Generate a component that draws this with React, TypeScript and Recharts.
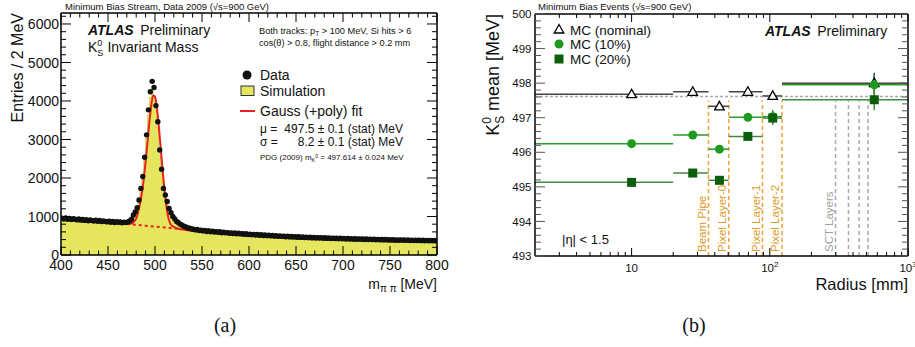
import React from 'react';
import {
  ComposedChart,
  Area,
  Line,
  Scatter,
  XAxis,
  YAxis,
  ErrorBar,
  ReferenceLine,
} from 'recharts';

const FONT = '"Liberation Sans", Arial, Helvetica, sans-serif';

// ---- (a) K0s invariant mass, 2 MeV bins from 400 to 800 MeV ----
const massBinStart = 400;
const massBinWidth = 2;

const dataCounts = [
  958, 936, 964, 928, 951, 922, 944, 931, 912, 938,
  905, 926, 898, 915, 887, 909, 893, 881, 902, 874,
  896, 868, 884, 873, 859, 881, 852, 870, 846, 862,
  849, 858, 838, 855, 842, 856, 884, 928, 1040, 1120,
  1230, 1430, 1730, 2040, 2540, 3120, 3770, 4240, 4510, 4350,
  3880, 3460, 2730, 2230, 1730, 1560, 1390, 1210, 1100, 1000,
  935, 872, 838, 796, 772, 741, 728, 702, 695, 676,
  668, 652, 661, 634, 647, 626, 639, 612, 631, 604,
  621, 596, 608, 590, 604, 577, 593, 575, 582, 566,
  575, 558, 571, 549, 563, 548, 553, 537, 551, 530,
  541, 528, 536, 518, 531, 512, 527, 506, 519, 503,
  512, 499, 506, 490, 504, 484, 497, 483, 490, 474,
  489, 470, 480, 469, 476, 460, 475, 457, 468, 456,
  463, 451, 460, 444, 459, 441, 452, 440, 450, 434,
  447, 431, 445, 428, 439, 428, 436, 422, 434, 420,
  431, 417, 428, 416, 425, 411, 423, 409, 419, 408,
  417, 404, 414, 401, 412, 400, 408, 396, 406, 394,
  404, 392, 401, 391, 398, 387, 397, 385, 394, 383,
  393, 382, 390, 380, 389, 378, 387, 377, 384, 375,
  384, 373, 382, 371, 379, 370, 378, 367, 376, 365,
];

const simCounts = [
  904, 897, 899, 889, 886, 884, 876, 873, 871, 864,
  862, 857, 856, 849, 846, 844, 838, 836, 834, 828,
  826, 822, 821, 815, 813, 811, 806, 805, 801, 799,
  797, 796, 792, 791, 793, 800, 829, 878, 958, 1048,
  1168, 1378, 1676, 1995, 2468, 3040, 3640, 4090, 4300, 4150,
  3760, 3300, 2660, 2150, 1680, 1480, 1312, 1158, 1042, 948,
  868, 811, 764, 731, 704, 686, 667, 656, 644, 636,
  625, 618, 608, 602, 593, 588, 579, 574, 566, 562,
  554, 550, 543, 540, 533, 530, 523, 520, 514, 512,
  506, 504, 498, 496, 490, 488, 483, 481, 476, 475,
  469, 468, 463, 462, 457, 456, 451, 451, 446, 445,
  441, 440, 436, 435, 431, 431, 426, 426, 422, 422,
  418, 418, 414, 414, 410, 410, 406, 406, 402, 403,
  399, 399, 395, 396, 392, 392, 389, 389, 386, 386,
  383, 383, 380, 380, 377, 378, 374, 375, 372, 372,
  369, 370, 367, 367, 364, 365, 362, 363, 360, 361,
  357, 358, 355, 356, 353, 354, 351, 352, 349, 350,
  347, 348, 345, 346, 343, 344, 342, 343, 340, 341,
  338, 339, 336, 338, 335, 336, 333, 334, 332, 333,
  330, 331, 329, 330, 327, 328, 326, 327, 324, 326,
];

const fitMass = [
  400, 410, 420, 430, 440, 450, 460, 470, 474, 478, 480, 482, 484, 486, 488,
  490, 492, 494, 496, 498, 500, 502, 504, 506, 508, 510, 512, 514, 516, 518,
  520, 524, 530, 540, 550, 560, 570, 580, 590, 600, 620, 640, 660, 680, 700,
  720, 740, 760, 780, 800,
];
const fitValues = [
  935, 915, 896, 878, 861, 845, 829, 805, 812, 875, 945, 1110, 1330, 1610, 1960,
  2420, 2920, 3440, 3880, 4140, 4110, 3830, 3360, 2800, 2230, 1710, 1290, 990, 830, 760,
  730, 690, 660, 632, 607, 585, 566, 549, 533, 518, 492, 471, 453, 438, 425,
  414, 404, 396, 389, 383,
];
const bkgMass = [470, 480, 490, 500, 510, 520, 528];
const bkgValues = [805, 783, 761, 739, 716, 690, 668];

const massTicks = [400, 450, 500, 550, 600, 650, 700, 750, 800];
const entriesTicks = [0, 1000, 2000, 3000, 4000, 5000, 6000];

// ---- (b) K0s mean mass vs radius ----
const radiusLo = [2, 20, 36, 50.5, 88.5, 122.5];
const radiusHi = [20, 36, 50.5, 88.5, 122.5, 1000];
const radiusCenter = [10, 27.7, 43.2, 69.4, 105, 570];
const meanNominal = [497.68, 497.75, 497.33, 497.75, 497.63, 498.0];
const meanMc10 = [496.25, 496.5, 496.09, 497.01, 497.03, 497.95];
const meanMc20 = [495.13, 495.4, 495.19, 496.46, 496.99, 497.52];
const errNominal = [0.02, 0.03, 0.04, 0.03, 0.05, 0.3];
const errMc10 = [0.03, 0.04, 0.05, 0.06, 0.2, 0.3];
const errMc20 = [0.03, 0.04, 0.05, 0.06, 0.2, 0.3];
const pdgMass = 497.614;
const layerTop = 497.5;
const pixelLayers = [36, 50.5, 88.5, 122.5];
const pixelLabels = ['Beam Pipe', 'Pixel Layer-0', 'Pixel Layer-1', 'Pixel Layer-2'];
const sctLayers = [299, 371, 443, 514];
const radiusTicks = [10, 100, 1000];
const radiusMinorTicks = [3, 4, 5, 6, 7, 8, 9, 20, 30, 40, 50, 60, 70, 80, 90, 200, 300, 400, 500, 600, 700, 800, 900];
const meanTicks = [493, 494, 495, 496, 497, 498, 499, 500];

const RED = '#e8231f';
const YELLOW = '#e6e65e';
const GREEN = '#1f9a1f';
const DARK_GREEN = '#0b5e0b';
const ORANGE = '#f0a22e';

const minorTicks = (lo: number, hi: number, step: number, major: number) => {
  const out: number[] = [];
  for (let v = lo; v <= hi + 1e-9; v += step) {
    const r = Math.round(v * 1000) / 1000;
    if (Math.abs(r / major - Math.round(r / major)) > 1e-6) out.push(r);
  }
  return out;
};

const simArea = simCounts
  .map((y, i) => ({ x: massBinStart + i * massBinWidth, y }))
  .concat([{ x: massBinStart + simCounts.length * massBinWidth, y: simCounts[simCounts.length - 1] }]);
const dataPoints = dataCounts.map((y, i) => ({ x: massBinStart + (i + 0.5) * massBinWidth, y }));
const fitLine = fitMass.map((x, i) => ({ x, y: fitValues[i] }));
const bkgLine = bkgMass.map((x, i) => ({ x, y: bkgValues[i] }));

const radiusRows = (means: number[], errs: number[]) =>
  means.map((y, i) => ({
    x: radiusCenter[i],
    y,
    xe: [radiusCenter[i] - radiusLo[i], radiusHi[i] - radiusCenter[i]],
    ye: errs[i],
  }));
const nominalRows = radiusRows(meanNominal, errNominal);
const mc10Rows = radiusRows(meanMc10, errMc10);
const mc20Rows = radiusRows(meanMc20, errMc20);

type Side = 'bottom' | 'top' | 'left' | 'right';
interface TickStyle {
  majors: number[];
  major: number;
  minor: number;
  color?: string;
  label?: (v: number) => React.ReactNode;
  size?: number;
  gap?: number;
}

// ROOT style: tick marks pointing into the frame, labels outside
const makeTick = (side: Side, s: TickStyle) => (props: any) => {
  const { x, y, payload } = props;
  const v = payload.value;
  const isMajor = s.majors.some((m) => Math.abs(m - v) < 1e-6);
  const len = isMajor ? s.major : s.minor;
  const dx = side === 'left' ? len : side === 'right' ? -len : 0;
  const dy = side === 'bottom' ? -len : side === 'top' ? len : 0;
  const size = s.size ?? 12;
  const showLabel = isMajor && s.label;
  return (
    <g>
      <line x1={x} y1={y} x2={x + dx} y2={y + dy} stroke={s.color ?? '#000'} strokeWidth={1} />
      {showLabel && side === 'bottom' && (
        <text x={x} y={y + (s.gap ?? 15)} textAnchor="middle" fontSize={size} fontFamily={FONT} fill="#111">
          {s.label!(v)}
        </text>
      )}
      {showLabel && side === 'left' && (
        <text x={x - (s.gap ?? 3)} y={y + size * 0.36} textAnchor="end" fontSize={size} fontFamily={FONT} fill="#111">
          {s.label!(v)}
        </text>
      )}
    </g>
  );
};

const frame = { stroke: '#000', strokeWidth: 1.5 };

function MassChart() {
  const xc = {
    type: 'number' as const,
    dataKey: 'x',
    domain: [400, 800],
    allowDataOverflow: true,
    height: 1,
    tickSize: 0,
    tickMargin: 0,
    tickLine: false,
    interval: 0 as const,
    axisLine: frame,
  };
  const yc = {
    type: 'number' as const,
    dataKey: 'y',
    domain: [0, 6285],
    allowDataOverflow: true,
    width: 1,
    tickSize: 0,
    tickMargin: 0,
    tickLine: false,
    interval: 0 as const,
    axisLine: frame,
  };
  const xAll = massTicks.concat(minorTicks(400, 800, 10, 50));
  const yAll = entriesTicks.concat(minorTicks(0, 6200, 200, 1000));
  const xs = { majors: massTicks, major: 9, minor: 4.5 };
  const ys = { majors: entriesTicks, major: 10, minor: 5 };
  return (
    <ComposedChart width={450} height={300} margin={{ top: 12, right: 12, bottom: 44, left: 60 }}>
      <Area
        data={simArea}
        dataKey="y"
        type="stepAfter"
        fill={YELLOW}
        fillOpacity={1}
        stroke="#b9b93c"
        strokeWidth={0.6}
        isAnimationActive={false}
      />
      <Scatter
        data={dataPoints}
        dataKey="y"
        shape={(p: any) => <circle cx={p.cx} cy={p.cy} r={2.7} fill="#111" />}
        isAnimationActive={false}
      />
      <Line
        data={bkgLine}
        dataKey="y"
        type="monotone"
        stroke={RED}
        strokeWidth={2}
        strokeDasharray="3 3"
        dot={false}
        isAnimationActive={false}
      />
      <Line data={fitLine} dataKey="y" type="monotone" stroke={RED} strokeWidth={2} dot={false} isAnimationActive={false} />

      <XAxis {...xc} ticks={xAll} tick={makeTick('bottom', { ...xs, label: (v) => v, size: 14, gap: 15 })} />
      <XAxis {...xc} xAxisId="xt" orientation="top" ticks={xAll} tick={makeTick('top', xs)} />
      <YAxis {...yc} ticks={yAll} tick={makeTick('left', { ...ys, label: (v) => v, size: 14, gap: 2 })} />
      <YAxis {...yc} yAxisId="yr" orientation="right" ticks={yAll} tick={makeTick('right', ys)} />
    </ComposedChart>
  );
}

const layerShape = (label: string, color: string, textColor: string) => (p: any) => {
  const { x1, y1, x2, y2 } = p;
  const bottom = Math.max(y1, y2);
  return (
    <g>
      <line x1={x1} y1={y1} x2={x2} y2={y2} stroke={color} strokeWidth={1.5} strokeDasharray="4 3" />
      {label && (
        <text
          transform={`translate(${x1 - 2.5},${bottom - 4}) rotate(-90)`}
          fontSize={11.5}
          fontFamily={FONT}
          fill={textColor}
        >
          {label}
        </text>
      )}
    </g>
  );
};

const triangle = (p: any) => (
  <polygon
    points={`${p.cx},${p.cy - 5} ${p.cx - 4.8},${p.cy + 3.5} ${p.cx + 4.8},${p.cy + 3.5}`}
    fill="#fff"
    stroke="#000"
    strokeWidth={1.3}
  />
);
const circle = (p: any) => <circle cx={p.cx} cy={p.cy} r={4.5} fill={GREEN} />;
const square = (p: any) => <rect x={p.cx - 4.5} y={p.cy - 4.5} width={9} height={9} fill={DARK_GREEN} />;

const powerLabel = (v: number) => {
  const e = Math.round(Math.log10(v));
  if (e === 1) return '10';
  return (
    <>
      10
      <tspan dy={-5} fontSize={8}>
        {e}
      </tspan>
    </>
  );
};

function RadiusChart() {
  const xc = {
    type: 'number' as const,
    dataKey: 'x',
    scale: 'log' as const,
    domain: [2, 1000],
    allowDataOverflow: true,
    height: 1,
    tickSize: 0,
    tickMargin: 0,
    tickLine: false,
    interval: 0 as const,
    axisLine: frame,
  };
  const yc = {
    type: 'number' as const,
    dataKey: 'y',
    domain: [493, 500],
    allowDataOverflow: true,
    width: 1,
    tickSize: 0,
    tickMargin: 0,
    tickLine: false,
    interval: 0 as const,
    axisLine: frame,
  };
  const tc = '#555';
  const xAll = radiusTicks.concat(radiusMinorTicks);
  const yAll = meanTicks.concat(minorTicks(493, 500, 0.2, 1));
  const xs = { majors: radiusTicks, major: 8, minor: 4 };
  const ys = { majors: meanTicks, major: 10, minor: 6, color: tc };
  return (
    <ComposedChart width={455} height={300} margin={{ top: 13, right: 6, bottom: 43, left: 74 }}>
      <ReferenceLine y={pdgMass} stroke="#aaa" strokeWidth={1.5} strokeDasharray="3 2" />
      {pixelLayers.map((r, i) => (
        <ReferenceLine
          key={`px${i}`}
          segment={[
            { x: r, y: 493 },
            { x: r, y: layerTop },
          ]}
          shape={layerShape(pixelLabels[i], ORANGE, '#e09a28')}
        />
      ))}
      {sctLayers.map((r, i) => (
        <ReferenceLine
          key={`sct${i}`}
          segment={[
            { x: r, y: 493 },
            { x: r, y: layerTop },
          ]}
          shape={layerShape(i === 0 ? 'SCT Layers' : '', '#aaa', '#a0a0a0')}
        />
      ))}
      <Scatter data={nominalRows} dataKey="y" shape={triangle} isAnimationActive={false}>
        <ErrorBar dataKey="xe" direction="x" width={0} stroke="#444" strokeWidth={1.5} />
        <ErrorBar dataKey="ye" direction="y" width={0} stroke="#444" strokeWidth={1.5} />
      </Scatter>
      <Scatter data={mc10Rows} dataKey="y" shape={circle} isAnimationActive={false}>
        <ErrorBar dataKey="xe" direction="x" width={0} stroke="#2a9d2a" strokeWidth={1.5} />
        <ErrorBar dataKey="ye" direction="y" width={0} stroke="#2a9d2a" strokeWidth={1.5} />
      </Scatter>
      <Scatter data={mc20Rows} dataKey="y" shape={square} isAnimationActive={false}>
        <ErrorBar dataKey="xe" direction="x" width={0} stroke="#3f8a3f" strokeWidth={1.5} />
        <ErrorBar dataKey="ye" direction="y" width={0} stroke="#3f8a3f" strokeWidth={1.5} />
      </Scatter>

      <XAxis {...xc} ticks={xAll} tick={makeTick('bottom', { ...xs, label: powerLabel, size: 11.5, gap: 15.5 })} />
      <XAxis {...xc} xAxisId="xt" orientation="top" ticks={xAll} tick={makeTick('top', xs)} />
      <YAxis {...yc} ticks={yAll} tick={makeTick('left', { ...ys, label: (v) => v, size: 11.5, gap: 3.5 })} />
      <YAxis {...yc} yAxisId="yr" orientation="right" ticks={yAll} tick={makeTick('right', ys)} />
    </ComposedChart>
  );
}

function Annotations() {
  const t = { fontFamily: FONT, fill: '#111' };
  return (
    <svg width={915} height={347} style={{ position: 'absolute', left: 0, top: 0, pointerEvents: 'none' }}>
      {/* panel (a) */}
      <text x={65} y={9.5} fontSize={9.5} {...t}>
        Minimum Bias Stream, Data 2009 (√s=900 GeV)
      </text>
      <text x={88} y={35} fontSize={14} {...t}>
        <tspan fontWeight="bold" fontStyle="italic">ATLAS</tspan>
        <tspan dx={6.5}>Preliminary</tspan>
      </text>
      <text x={88} y={52} fontSize={14} {...t}>
        K<tspan fontSize={9} dy={4}>S</tspan>
        <tspan fontSize={9} dx={-6} dy={-10}>0</tspan>
        <tspan dx={5} dy={6}>Invariant Mass</tspan>
      </text>
      <text x={259} y={34} fontSize={9.2} {...t}>
        Both tracks: p<tspan fontSize={6.5} dy={2}>T</tspan>
        <tspan dy={-2}> &gt; 100 MeV, Si hits &gt; 6</tspan>
      </text>
      <text x={259} y={46} fontSize={9.2} {...t}>
        cos(θ) &gt; 0.8, flight distance &gt; 0.2 mm
      </text>
      <circle cx={247} cy={75} r={4.5} fill="#111" />
      <text x={260} y={80} fontSize={14} {...t}>Data</text>
      <rect x={241} y={86} width={13} height={9.5} fill={YELLOW} stroke="#333" strokeWidth={1} />
      <text x={260} y={96} fontSize={14} {...t}>Simulation</text>
      <line x1={240} y1={111} x2={255} y2={111} stroke={RED} strokeWidth={2} />
      <text x={260} y={116} fontSize={14} {...t}>Gauss (+poly) fit</text>
      <text x={260} y={133} fontSize={12} {...t}>μ =</text>
      <text x={403} y={133} fontSize={12} textAnchor="end" {...t}>497.5 ± 0.1 (stat) MeV</text>
      <text x={260} y={146} fontSize={12} {...t}>σ =</text>
      <text x={403} y={146} fontSize={12} textAnchor="end" {...t}>8.2 ± 0.1 (stat) MeV</text>
      <text x={260} y={160} fontSize={8} {...t}>
        PDG (2009) m<tspan fontSize={5.5} dy={2}>K</tspan>
        <tspan fontSize={5} dy={-4}>0</tspan>
        <tspan dy={2}> = 497.614 ± 0.024 MeV</tspan>
      </text>
      <text transform="translate(23,13) rotate(-90)" textAnchor="end" fontSize={16} {...t}>
        Entries / 2 MeV
      </text>
      <text x={437} y={289} textAnchor="end" fontSize={14} {...t}>
        m<tspan fontSize={10} dy={3}>π π</tspan>
        <tspan dy={-3}> [MeV]</tspan>
      </text>

      {/* panel (b) */}
      <text x={538} y={10} fontSize={9.5} {...t}>
        Minimum Bias Events (√s=900 GeV)
      </text>
      <text x={765} y={36} fontSize={14} {...t}>
        <tspan fontWeight="bold" fontStyle="italic">ATLAS</tspan>
        <tspan dx={6.5}>Preliminary</tspan>
      </text>
      <polygon points="559,24.5 554.2,33 563.8,33" fill="#fff" stroke="#000" strokeWidth={1.3} />
      <text x={570} y={34.5} fontSize={13.5} {...t}>MC (nominal)</text>
      <circle cx={559} cy={44} r={4.5} fill={GREEN} />
      <text x={570} y={49} fontSize={13.5} {...t}>MC (10%)</text>
      <rect x={554.5} y={54.5} width={9} height={9} fill={DARK_GREEN} />
      <text x={570} y={64} fontSize={13.5} {...t}>MC (20%)</text>
      <text x={562} y={244} fontSize={13} {...t}>|η| &lt; 1.5</text>
      <text x={908} y={290} textAnchor="end" fontSize={16.5} {...t}>Radius [mm]</text>
      <text transform="translate(499,14) rotate(-90)" textAnchor="end" fontSize={18} {...t}>
        K<tspan fontSize={12} dy={5}>S</tspan>
        <tspan fontSize={12} dx={-8} dy={-13}>0</tspan>
        <tspan dx={6} dy={8}>mean [MeV]</tspan>
      </text>

      <text x={225} y={332} textAnchor="middle" fontSize={20} fontFamily='"Liberation Serif", serif' fill="#111">
        (a)
      </text>
      <text x={694} y={332} textAnchor="middle" fontSize={20} fontFamily='"Liberation Serif", serif' fill="#111">
        (b)
      </text>
    </svg>
  );
}

export default function App() {
  return (
    <div style={{ position: 'relative', width: 915, height: 347, background: '#fff', overflow: 'hidden' }}>
      <style>{'body{margin:0}'}</style>
      <div style={{ position: 'absolute', left: 0, top: 0 }}>
        <MassChart />
      </div>
      <div style={{ position: 'absolute', left: 460, top: 0 }}>
        <RadiusChart />
      </div>
      <Annotations />
    </div>
  );
}
